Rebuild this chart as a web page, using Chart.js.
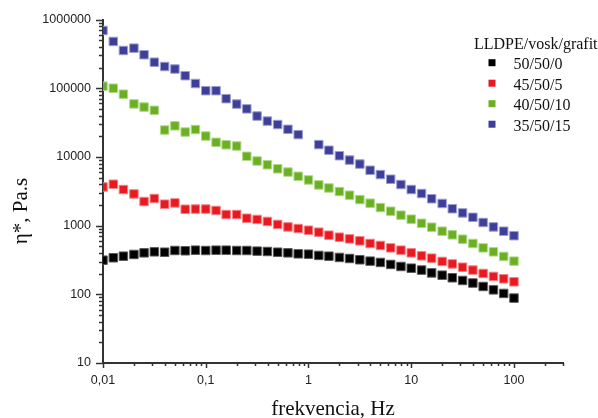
<!DOCTYPE html>
<html>
<head>
<meta charset="utf-8">
<script src="https://cdn.jsdelivr.net/npm/chart.js@4.4.0/dist/chart.umd.min.js"></script>
<style>
  html, body { margin: 0; padding: 0; background: #fff; }
  #chart { display: block; }
</style>
</head>
<body>
<canvas id="chart" width="598" height="418"></canvas>
<script>
// Frequency sweep, Hz (10 points per decade)
const freq = [
    0.01, 0.0126, 0.0158, 0.02, 0.0251, 0.0316, 0.0398, 0.0501, 0.0631, 0.0794,
    0.1, 0.126, 0.158, 0.2, 0.251, 0.316, 0.398, 0.501, 0.631, 0.794,
    1, 1.26, 1.58, 2, 2.51, 3.16, 3.98, 5.01, 6.31, 7.94,
    10, 12.6, 15.8, 20, 25.1, 31.6, 39.8, 50.1, 63.1, 79.4,
    100
];

// Complex viscosity, Pa.s
const eta_50_50_0 = [
    314, 340, 359, 380, 401, 415, 410, 434, 430, 439,
    434, 439, 439, 434, 434, 425, 420, 410, 401, 388,
    384, 368, 359, 344, 332, 318, 304, 291, 272, 254,
    240, 225, 205, 190, 174, 159, 146, 130, 116, 103,
    88
];
const eta_45_50_5 = [
    3650, 4000, 3350, 2890, 2240, 2480, 2050, 2140, 1730, 1740,
    1740, 1660, 1450, 1450, 1280, 1230, 1150, 1040, 957, 907,
    857, 802, 725, 678, 641, 600, 549, 514, 474, 439,
    401, 363, 336, 301, 277, 248, 225, 201, 182, 168,
    152
];
const eta_40_50_10 = [
    107000, 100000, 81800, 59100, 53100, 47600, 24600, 28300, 23000, 25000,
    20100, 16300, 15000, 14400, 10200, 8710, 7680, 6710, 6010, 5220,
    4620, 3910, 3530, 3130, 2770, 2390, 2120, 1830, 1620, 1420,
    1240, 1080, 948, 829, 733, 634, 549, 474, 415, 356,
    304
];
const eta_35_50_15 = [
    692000, 479000, 354000, 383000, 307000, 239000, 207000, 190000, 152000, 117000,
    92000, 92000, 70400, 58700, 50000, 39300, 33200, 29600, 25200, 21100,
    null, 15100, 12500, 10400, 8980, 7860, 6390, 5530, 4730, 3960,
    3350, 2930, 2460, 2100, 1760, 1530, 1320, 1110, 957, 829,
    713
];

const seriesLabels = ['50/50/0', '45/50/5', '40/50/10', '35/50/15'];
const seriesValues = [eta_50_50_0, eta_45_50_5, eta_40_50_10, eta_35_50_15];
const seriesColors = ['#000000', '#e8191f', '#6bb023', '#3d3f99'];
const seriesEdges  = ['#5a5a5a', '#f2858a', '#b1d98a', '#9d9fcf'];

const legendTitle = 'LLDPE/vosk/grafit';
const xTitle = 'frekvencia, Hz';
const yTitle = 'η*, Pa.s';

const axisColor = '#333333';
const sansFont = '"Liberation Sans", Arial, sans-serif';
const serifFont = '"Liberation Serif", "Times New Roman", serif';

const isDecade = v => Math.abs(Math.log10(v) - Math.round(Math.log10(v))) < 1e-9;

// 1..9 x 10^k tick values between lo and hi
function logTicks(lo, hi) {
    const out = [];
    for (let e = Math.floor(Math.log10(lo)); e <= Math.ceil(Math.log10(hi)); e++) {
        for (let m = 1; m <= 9; m++) {
            const v = parseFloat((m * Math.pow(10, e)).toPrecision(6));
            if (v >= lo * 0.999 && v <= hi * 1.001) out.push({ value: v, major: m === 1 });
        }
    }
    return out;
}

const datasets = seriesLabels.map((label, i) => ({
    label: label,
    data: freq.map((f, j) => ({ x: f, y: seriesValues[i][j] })).filter(p => p.y !== null),
    pointStyle: 'rect',
    pointRadius: 6,
    pointBorderWidth: 1,
    backgroundColor: seriesColors[i],
    borderColor: seriesEdges[i],
    showLine: false
}));

// Tick marks (long at decades, short in between) drawn outside the axes
const tickMarks = {
    id: 'tickMarks',
    afterDraw(chart) {
        const { ctx, chartArea } = chart;
        const xs = chart.scales.x, ys = chart.scales.y;
        ctx.save();
        ctx.strokeStyle = axisColor;
        ctx.lineWidth = 1.5;
        ctx.beginPath();
        xs.ticks.forEach(t => {
            const px = Math.round(xs.getPixelForValue(t.value)) + 0.5;
            const len = isDecade(t.value) ? 5 : 3;
            ctx.moveTo(px, chartArea.bottom);
            ctx.lineTo(px, chartArea.bottom + len);
        });
        ys.ticks.forEach(t => {
            const py = Math.round(ys.getPixelForValue(t.value)) + 0.5;
            const len = isDecade(t.value) ? 7 : 4;
            ctx.moveTo(chartArea.left, py);
            ctx.lineTo(chartArea.left - len, py);
        });
        ctx.stroke();
        ctx.restore();
    }
};

// Axis titles and the legend block at top right
const annotations = {
    id: 'annotations',
    afterDraw(chart) {
        const { ctx, chartArea } = chart;
        ctx.save();
        ctx.fillStyle = '#111';

        ctx.font = '21px ' + serifFont;
        ctx.textAlign = 'center';
        ctx.textBaseline = 'alphabetic';
        ctx.fillText(xTitle, (chartArea.left + chartArea.right) / 2, 415);

        ctx.save();
        ctx.translate(27, 211);
        ctx.rotate(-Math.PI / 2);
        ctx.fillText(yTitle, 0, 0);
        ctx.restore();

        ctx.textAlign = 'left';
        ctx.font = '16px ' + serifFont;
        ctx.fillText(legendTitle, 474, 49);
        chart.data.datasets.forEach((ds, i) => {
            const cy = 62.7 + i * 20.5;
            ctx.fillStyle = ds.backgroundColor;
            ctx.fillRect(488.5, cy - 3.5, 7, 7);
            ctx.fillStyle = '#111';
            ctx.fillText(ds.label, 513.5, 69 + i * 20.5);
        });
        ctx.restore();
    }
};

new Chart(document.getElementById('chart'), {
    type: 'scatter',
    data: { datasets: datasets },
    options: {
        responsive: false,
        animation: false,
        events: [],
        layout: { padding: { top: 19, right: 35, left: 0, bottom: 0 } },
        plugins: {
            legend: { display: false },
            tooltip: { enabled: false }
        },
        scales: {
            x: {
                type: 'logarithmic',
                min: 0.01,
                max: 300,
                afterBuildTicks: s => { s.ticks = logTicks(0.01, 300); },
                afterFit: s => { s.height = 55; },
                grid: { display: false, drawTicks: false },
                border: { display: true, color: axisColor, width: 2 },
                ticks: {
                    autoSkip: false,
                    maxRotation: 0,
                    padding: 10,
                    color: '#222',
                    font: { family: sansFont, size: 12.5 },
                    callback: v => isDecade(v) && v <= 100 ? String(v).replace('.', ',') : ''
                }
            },
            y: {
                type: 'logarithmic',
                min: 10,
                max: 1000000,
                afterBuildTicks: s => { s.ticks = logTicks(10, 1000000); },
                afterFit: s => { s.width = 103; },
                grid: { display: false, drawTicks: false },
                border: { display: true, color: axisColor, width: 2 },
                ticks: {
                    autoSkip: false,
                    padding: 12,
                    color: '#222',
                    font: { family: sansFont, size: 12.5 },
                    callback: v => isDecade(v) ? String(v) : ''
                }
            }
        }
    },
    plugins: [tickMarks, annotations]
});
</script>
</body>
</html>
